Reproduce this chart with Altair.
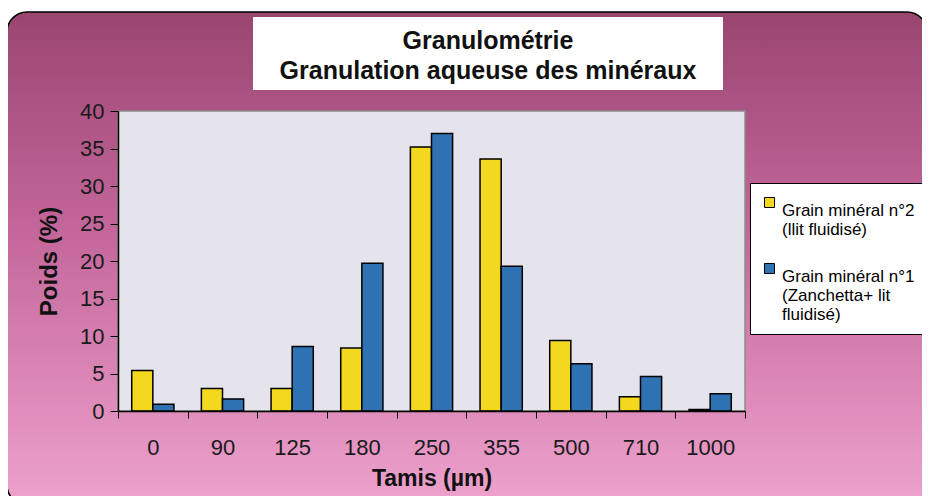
import altair as alt
import pandas as pd

categories = ["0", "90", "125", "180", "250", "355", "500", "710", "1000"]
serie_n2 = [5.4, 3.0, 3.0, 8.4, 35.2, 33.6, 9.4, 1.9, 0.2]
serie_n1 = [0.9, 1.6, 8.6, 19.7, 37.0, 19.3, 6.3, 4.6, 2.3]
series_names = [
    "Grain minéral n°2|(llit fluidisé)",
    "Grain minéral n°1|(Zanchetta+ lit|fluidisé)",
]
series_colors = ["#f3d81e", "#2e72b4"]
title_lines = ["Granulométrie", "Granulation aqueuse des minéraux"]
y_ticks = [0, 5, 10, 15, 20, 25, 30, 35, 40]

rows = []
for i, c in enumerate(categories):
    rows.append({"Tamis": c, "Série": series_names[0], "Poids": serie_n2[i]})
    rows.append({"Tamis": c, "Série": series_names[1], "Poids": serie_n1[i]})
df = pd.DataFrame(rows)

W, H = 627, 300
FONT = "Liberation Sans"
one = pd.DataFrame({"t": ["\n".join(title_lines)]})

frame = alt.Chart(one).mark_rect(
    fill=alt.Gradient(
        gradient="linear", x1=0, x2=0, y1=0, y2=1,
        stops=[
            alt.GradientStop(color="#9a4570", offset=0),
            alt.GradientStop(color="#c4679c", offset=0.45),
            alt.GradientStop(color="#eea2cd", offset=1),
        ],
    ),
    stroke="black", strokeWidth=1.5, cornerRadius=20, clip=False,
).encode(x=alt.value(-111), x2=alt.value(809), y=alt.value(-99), y2=alt.value(394))

plotbg = alt.Chart(one).mark_rect(
    fill="#e5e3eb", stroke="#8c8c8c", strokeWidth=1.5
).encode(x=alt.value(0), x2=alt.value(W), y=alt.value(0), y2=alt.value(H))

titlebox = alt.Chart(one).mark_rect(fill="white", clip=False).encode(
    x=alt.value(135), x2=alt.value(605), y=alt.value(-94), y2=alt.value(-21)
)

titletext = alt.Chart(one).mark_text(
    font=FONT, fontSize=25, fontWeight="bold", color="#111111",
    lineBreak="\n", lineHeight=30, align="center", baseline="middle", clip=False,
).encode(text="t:N", x=alt.value(370), y=alt.value(-70))

bars = alt.Chart(df).mark_bar(stroke="black", strokeWidth=1.5).encode(
    x=alt.X(
        "Tamis:N", sort=categories,
        scale=alt.Scale(paddingInner=0, paddingOuter=0),
        axis=alt.Axis(
            title="Tamis (µm)", labelAngle=0, labelFont=FONT, labelFontSize=22,
            labelColor="#1a1a1a", labelPadding=19, tickBand="extent", tickSize=7,
            tickColor="black", domainColor="black", domainWidth=1.5,
            titleFont=FONT, titleFontSize=23, titleFontWeight="bold",
            titleColor="#111111", titlePadding=9, zindex=2,
        ),
    ),
    xOffset=alt.XOffset(
        "Série:N", sort=series_names,
        scale=alt.Scale(paddingOuter=0.65, paddingInner=0),
    ),
    y=alt.Y(
        "Poids:Q", scale=alt.Scale(domain=[0, 40]),
        axis=alt.Axis(
            values=y_ticks, grid=False, title="Poids (%)", labelFont=FONT,
            labelFontSize=22, labelColor="#1a1a1a", tickSize=8, tickColor="black",
            domainColor="black", domainWidth=1.5, labelPadding=6,
            titleFont=FONT, titleFontSize=24, titleFontWeight="bold",
            titleColor="#111111", titlePadding=18, zindex=2,
        ),
    ),
    color=alt.Color(
        "Série:N", sort=series_names,
        scale=alt.Scale(domain=series_names, range=series_colors),
        legend=alt.Legend(
            orient="none", legendX=632, legendY=72, title=None,
            labelExpr="split(datum.label, '|')", symbolType="square",
            symbolSize=100, symbolStrokeColor="black", symbolStrokeWidth=1,
            fillColor="white", strokeColor="black", padding=11,
            labelFont=FONT, labelFontSize=17, labelColor="black",
            rowPadding=22, labelLimit=300, labelBaseline="top", labelOffset=4,
        ),
    ),
)

chart = alt.layer(frame, plotbg, titlebox, titletext, bars).properties(
    width=W, height=H,
    autosize=alt.AutoSizeParams(type="none"),
    padding={"left": 110, "top": 103, "right": 177, "bottom": 85},
    background="white",
).configure_view(stroke=None)

chart.save("out.html", embed_options={"renderer": "svg", "actions": False})
